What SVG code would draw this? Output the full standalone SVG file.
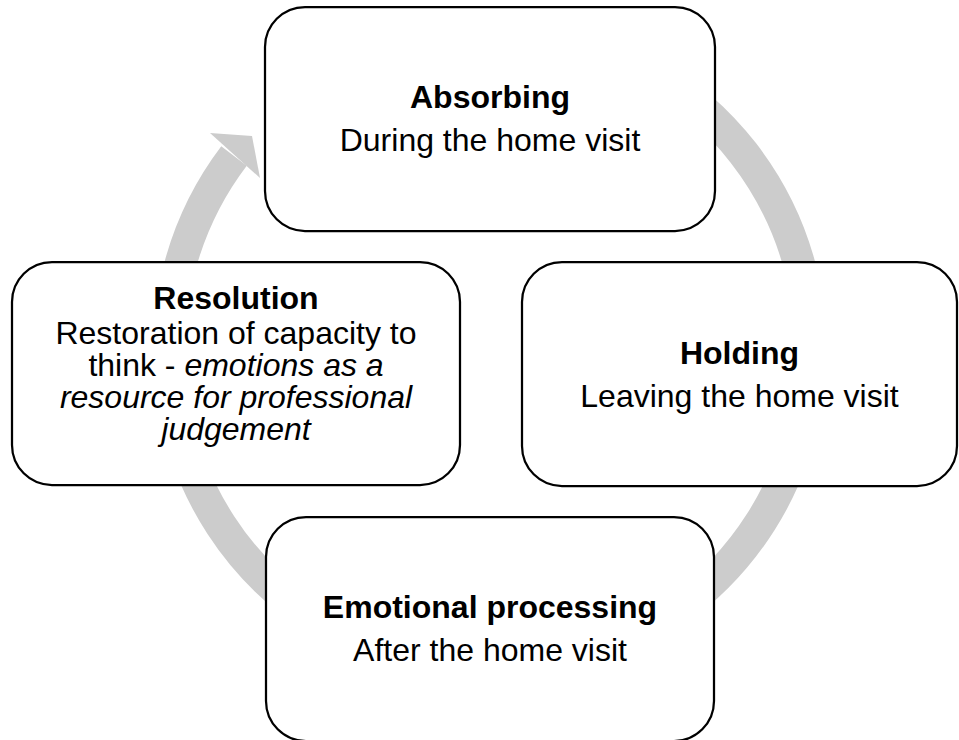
<svg xmlns="http://www.w3.org/2000/svg" width="959" height="740" viewBox="0 0 959 740">
  <style>
    .box { fill: #ffffff; stroke: #000000; stroke-width: 2.25; }
    .ring { fill: none; stroke: #cccccc; stroke-width: 32; }
    .head { fill: #cccccc; stroke: none; }
    text { font-family: "Liberation Sans", Arial, sans-serif; font-size: 32px; fill: #000000; text-anchor: middle; }
    .title { font-weight: bold; }
    .em { font-style: italic; }
  </style>
  <rect width="959" height="740" fill="#ffffff"/>

  <!-- circular arrow running clockwise behind the stages -->
  <g id="connectors">
    <path class="ring" d="M 650.5 72 A 321 321 0 1 1 234 156"/>
    <polygon class="head" points="210,133 252,136 260,178"/>
  </g>

  <g id="absorbing">
    <rect class="box" x="265" y="7" width="450" height="224" rx="40" ry="40"/>
    <text class="title" x="490" y="108">Absorbing</text>
    <text x="490" y="151">During the home visit</text>
  </g>

  <g id="holding">
    <rect class="box" x="522" y="262" width="435" height="224" rx="40" ry="40"/>
    <text class="title" x="739.5" y="364">Holding</text>
    <text x="739.5" y="407">Leaving the home visit</text>
  </g>

  <g id="emotional-processing">
    <rect class="box" x="266" y="517" width="448" height="224" rx="40" ry="40"/>
    <text class="title" x="490" y="618">Emotional processing</text>
    <text x="490" y="661">After the home visit</text>
  </g>

  <g id="resolution">
    <rect class="box" x="12" y="262" width="448" height="223" rx="40" ry="40"/>
    <text class="title" x="236" y="309">Resolution</text>
    <text x="236" y="344">Restoration of capacity to</text>
    <text x="236" y="376">think - <tspan class="em">emotions as a</tspan></text>
    <text class="em" x="236" y="408">resource for professional</text>
    <text class="em" x="236" y="440">judgement</text>
  </g>
</svg>
